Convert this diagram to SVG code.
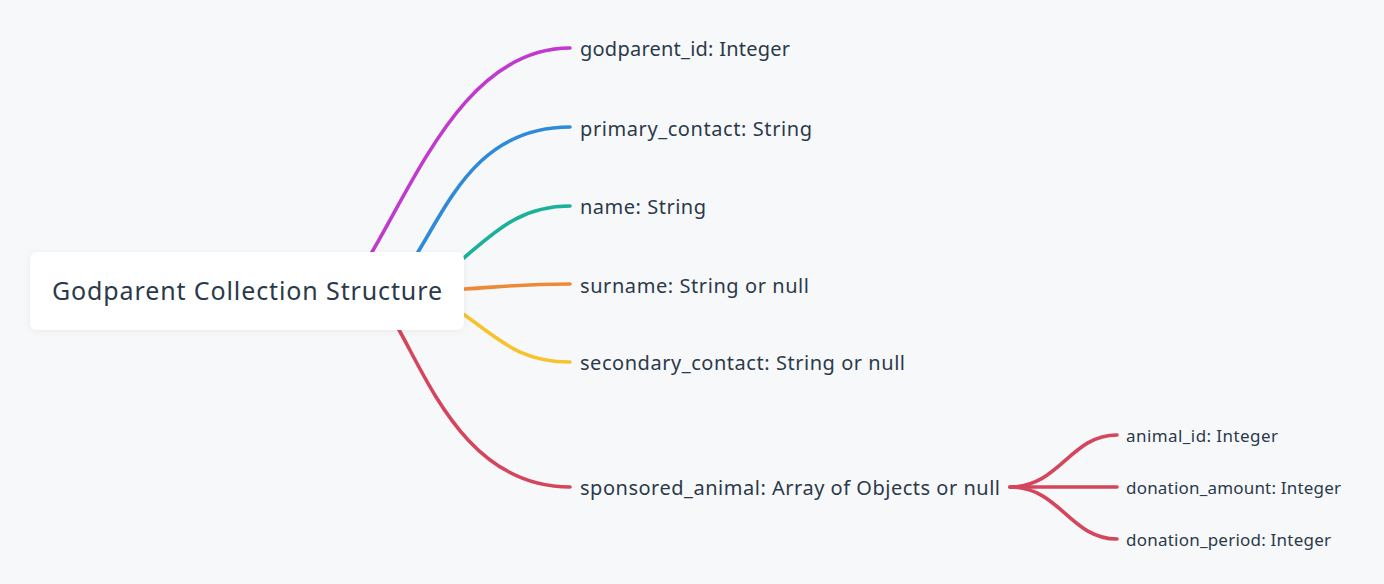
<svg xmlns="http://www.w3.org/2000/svg" width="1384" height="584" viewBox="0 0 1384 584">
<style>
.bg{fill:#f7f8fa}
.link{fill:none;stroke-width:3.6;stroke-linecap:round}
.lbl{font-family:"Noto Sans","Open Sans",sans-serif;font-size:20px;fill:#2b3a4a;dominant-baseline:central}
.sub{font-family:"Noto Sans","Open Sans",sans-serif;font-size:17px;fill:#2b3a4a;dominant-baseline:central}
.root{font-family:"Noto Sans","Open Sans",sans-serif;font-size:25px;fill:#2b3a4a;dominant-baseline:central}
</style>
<defs>
<filter id="sh" x="-10%" y="-30%" width="120%" height="160%">
<feDropShadow dx="0" dy="1" stdDeviation="3" flood-color="#000" flood-opacity="0.06"/>
</filter>
</defs>
<rect class="bg" x="0" y="0" width="1384" height="584"/>
<g id="connectors">
<path class="link" stroke="#c03acd" d="M340,300 L372,252 C420,170 470,48 570,48"/>
<path class="link" stroke="#2f8ad8" d="M390,290 L418,252 C450,200 480,127 570,127"/>
<path class="link" stroke="#1ab09a" d="M430,285 L465,257 C495,232 520,206 570,206"/>
<path class="link" stroke="#ec8a3a" d="M430,291 L465,289 C500,287 520,284 570,284"/>
<path class="link" stroke="#f7c22e" d="M430,292 L466,316 C500,340 520,362 570,362"/>
<path class="link" stroke="#d4465c" d="M380,300 L398,328 C430,385 470,487 570,487"/>
<path class="link" stroke="#d4465c" d="M1010,487 C1060,487 1070,435 1117,435"/>
<path class="link" stroke="#d4465c" d="M1010,487 L1117,487"/>
<path class="link" stroke="#d4465c" d="M1010,487 C1060,487 1070,539 1117,539"/>
</g>
<g id="root">
<rect x="30" y="252" width="434" height="78" rx="7" fill="#ffffff" filter="url(#sh)"/>
<text class="root" x="52" y="290" textLength="390" lengthAdjust="spacing">Godparent Collection Structure</text>
</g>
<g id="n-godparent-id"><text class="lbl" x="580" y="48" textLength="210" lengthAdjust="spacing">godparent_id: Integer</text></g>
<g id="n-primary-contact"><text class="lbl" x="580" y="128" textLength="232" lengthAdjust="spacing">primary_contact: String</text></g>
<g id="n-name"><text class="lbl" x="580" y="206" textLength="126" lengthAdjust="spacing">name: String</text></g>
<g id="n-surname"><text class="lbl" x="580" y="285" textLength="229" lengthAdjust="spacing">surname: String or null</text></g>
<g id="n-secondary-contact"><text class="lbl" x="580" y="362" textLength="325" lengthAdjust="spacing">secondary_contact: String or null</text></g>
<g id="n-sponsored-animal"><text class="lbl" x="580" y="487" textLength="420" lengthAdjust="spacing">sponsored_animal: Array of Objects or null</text></g>
<g id="n-animal-id"><text class="sub" x="1126" y="435" textLength="152" lengthAdjust="spacing">animal_id: Integer</text></g>
<g id="n-donation-amount"><text class="sub" x="1126" y="487" textLength="215" lengthAdjust="spacing">donation_amount: Integer</text></g>
<g id="n-donation-period"><text class="sub" x="1126" y="539" textLength="205" lengthAdjust="spacing">donation_period: Integer</text></g>
</svg>
